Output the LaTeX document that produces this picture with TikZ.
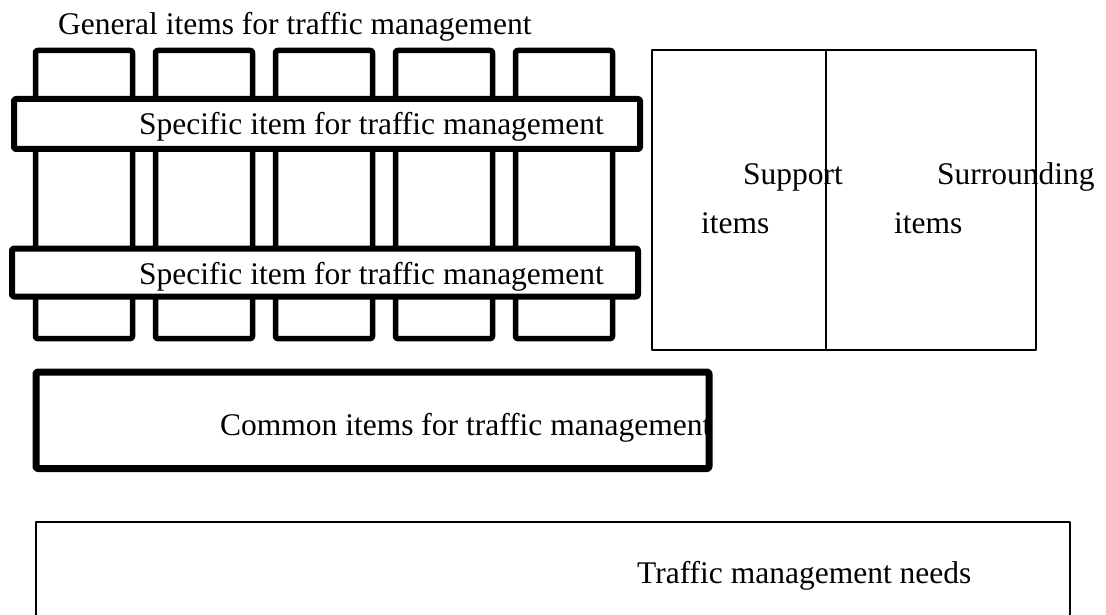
\documentclass[tikz,border=0pt]{standalone}
\usepackage{fontspec}
\setmainfont{Liberation Serif}
\begin{document}
\begin{tikzpicture}[x=1pt,y=-1pt,line join=round,font=\fontsize{31.5}{36}\selectfont,
	heavybox/.style={line width=5.5pt,rounded corners=2pt},
	txt/.style={inner sep=0pt,anchor=base west}]
	\useasboundingbox (0,0) rectangle (1106,615);
	\clip (0,0) rectangle (1106,615);
	\node[txt] (general) at (58,35) {General items for traffic management};
	\foreach \x in {0,...,4}\draw[heavybox,shift={(120*\x,0)}] (35.5,50.5) rectangle (132.5,338.5);
	\draw[heavybox,line width=6pt,fill=white] (14,99) rectangle (640,149);
	\node[txt] (specifictop) at (139,135) {Specific item for traffic management};
	\draw[heavybox,line width=6pt,fill=white] (12,248.5) rectangle (638,296.5);
	\node[txt] (specificbot) at (139,284) {Specific item for traffic management};
	\draw[line width=1.6pt] (652,50) rectangle (1036,350);
	\draw[line width=2.4pt] (826,50)--(826,350);
	\node[txt] (support) at (743,185) {Support};
	\node[txt] (supportb) at (701,233) {items};
	\node[txt] (surround) at (937,185) {Surrounding};
	\node[txt] (surroundb) at (894,233) {items};
	\draw[heavybox,line width=7pt] (36,372) rectangle (709,468.5);
	\node[txt] (common) at (220,435) {Common items for traffic management};
	\draw[line width=2pt] (35.5,640) |- (1070,522) -- (1070,640);
	\node[txt] (needs) at (637,583) {Traffic management needs};
\end{tikzpicture}
\end{document}
